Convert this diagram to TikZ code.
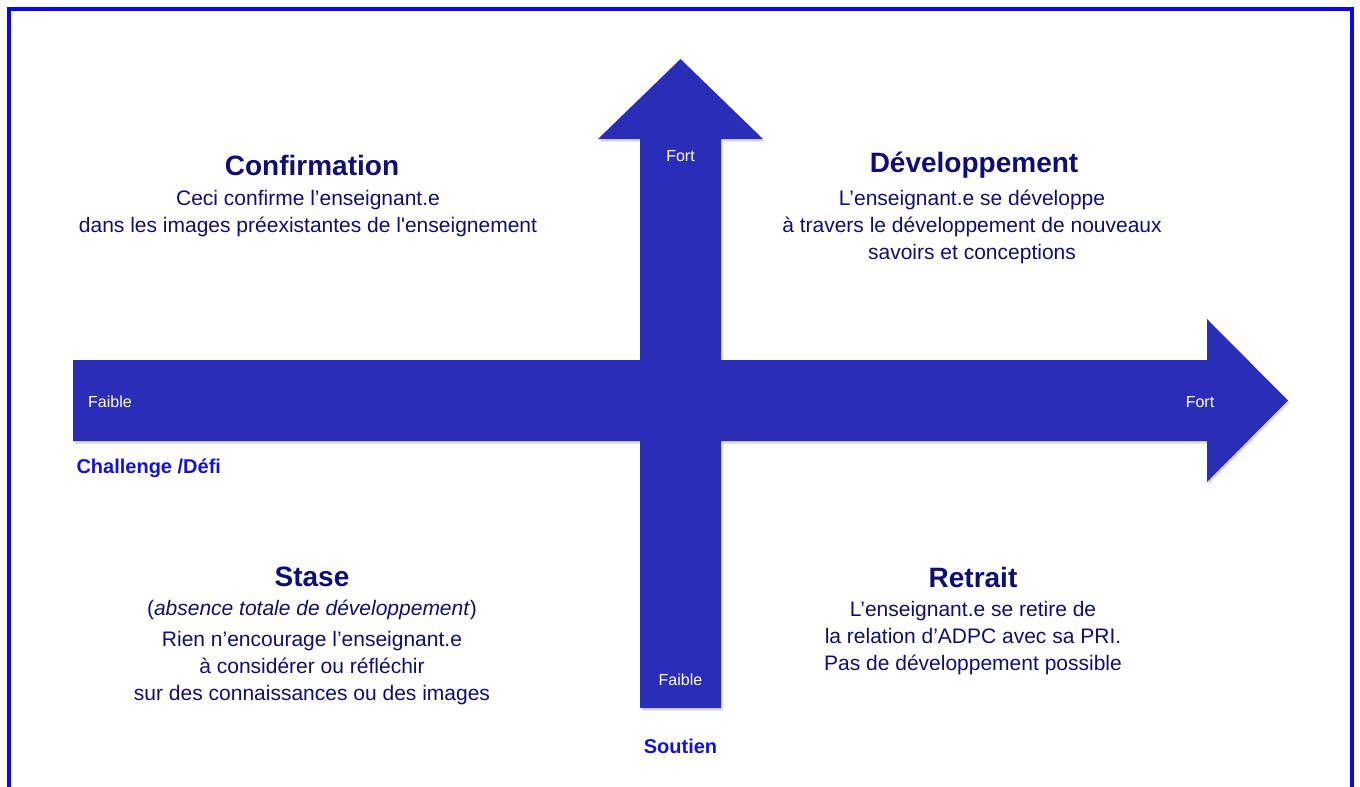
\documentclass[tikz,border=0pt]{standalone}
\usepackage{fontspec}
\setmainfont{Liberation Sans}[Ligatures=TeXOff]
\usetikzlibrary{shadows}
\definecolor{arrowblue}{RGB}{42,45,184}
\definecolor{frameblue}{RGB}{8,8,245}
\definecolor{navytext}{RGB}{14,14,118}
\definecolor{axisblue}{RGB}{18,18,222}

\begin{document}
\begin{tikzpicture}[x=1pt, y=-1pt,
    title/.style={text=navytext, font=\fontsize{28}{32}\selectfont\bfseries},
    body/.style={text=navytext, font=\fontsize{21}{27}\selectfont, align=center},
    tag/.style={text=white, font=\fontsize{16}{19}\selectfont},
    axislabel/.style={text=axisblue, font=\fontsize{20}{24}\selectfont\bfseries}]
    \useasboundingbox (0,0) rectangle (1360,787);

    % Frame
    \draw[frameblue, line width=4pt] (9,9) rectangle (1352,797);

    % Both arrows as one shape
    \fill[arrowblue, drop shadow={shadow xshift=1.5pt, shadow yshift=-2.5pt, opacity=0.3}]
        (73,360) -- (1207,360) -- (1207,319) -- (1288,400.5) -- (1207,482) -- (1207,441) -- (73,441) -- cycle
        (640,708) -- (640,139) -- (598,139) -- (680.5,59) -- (763,139) -- (721,139) -- (721,708) -- cycle;

    % Arrow labels
    \node[tag] (vfort) at (680.5,156) {Fort};
    \node[tag] (vfaible) at (680.5,680) {Faible};
    \node[tag] (hfaible) at (110,402) {Faible};
    \node[tag] (hfort) at (1200,402) {Fort};

    % Axis names
    \node[axislabel, anchor=west] (challenge) at (73,468) {Challenge /Défi};
    \node[axislabel] (soutien) at (680.5,746) {Soutien};

    % Top left
    \node[title] (confirmtitle) at (312,165) {Confirmation};
    \node[body] (confirmtext) at (308,214) {Ceci confirme l’enseignant.e\\dans les images préexistantes de l'enseignement};

    % Top right
    \node[title] (devtitle) at (974,165) {Développement};
    \node[body] (devtext) at (972,227) {L’enseignant.e se développe\\à travers le développement de nouveaux\\savoirs et conceptions};

    % Bottom left
    \node[title] (stasetitle) at (312,577) {Stase};
    \node[body] (stasenote) at (312,610) {(\textit{absence totale de développement})};
    \node[body] (stasetext) at (312,668) {Rien n’encourage l’enseignant.e\\à considérer ou réfléchir\\sur des connaissances ou des images};

    % Bottom right
    \node[title] (retraittitle) at (973,577) {Retrait};
    \node[body] (retraittext) at (973,638) {L’enseignant.e se retire de\\la relation d’ADPC avec sa PRI.\\Pas de développement possible};
\end{tikzpicture}
\end{document}
